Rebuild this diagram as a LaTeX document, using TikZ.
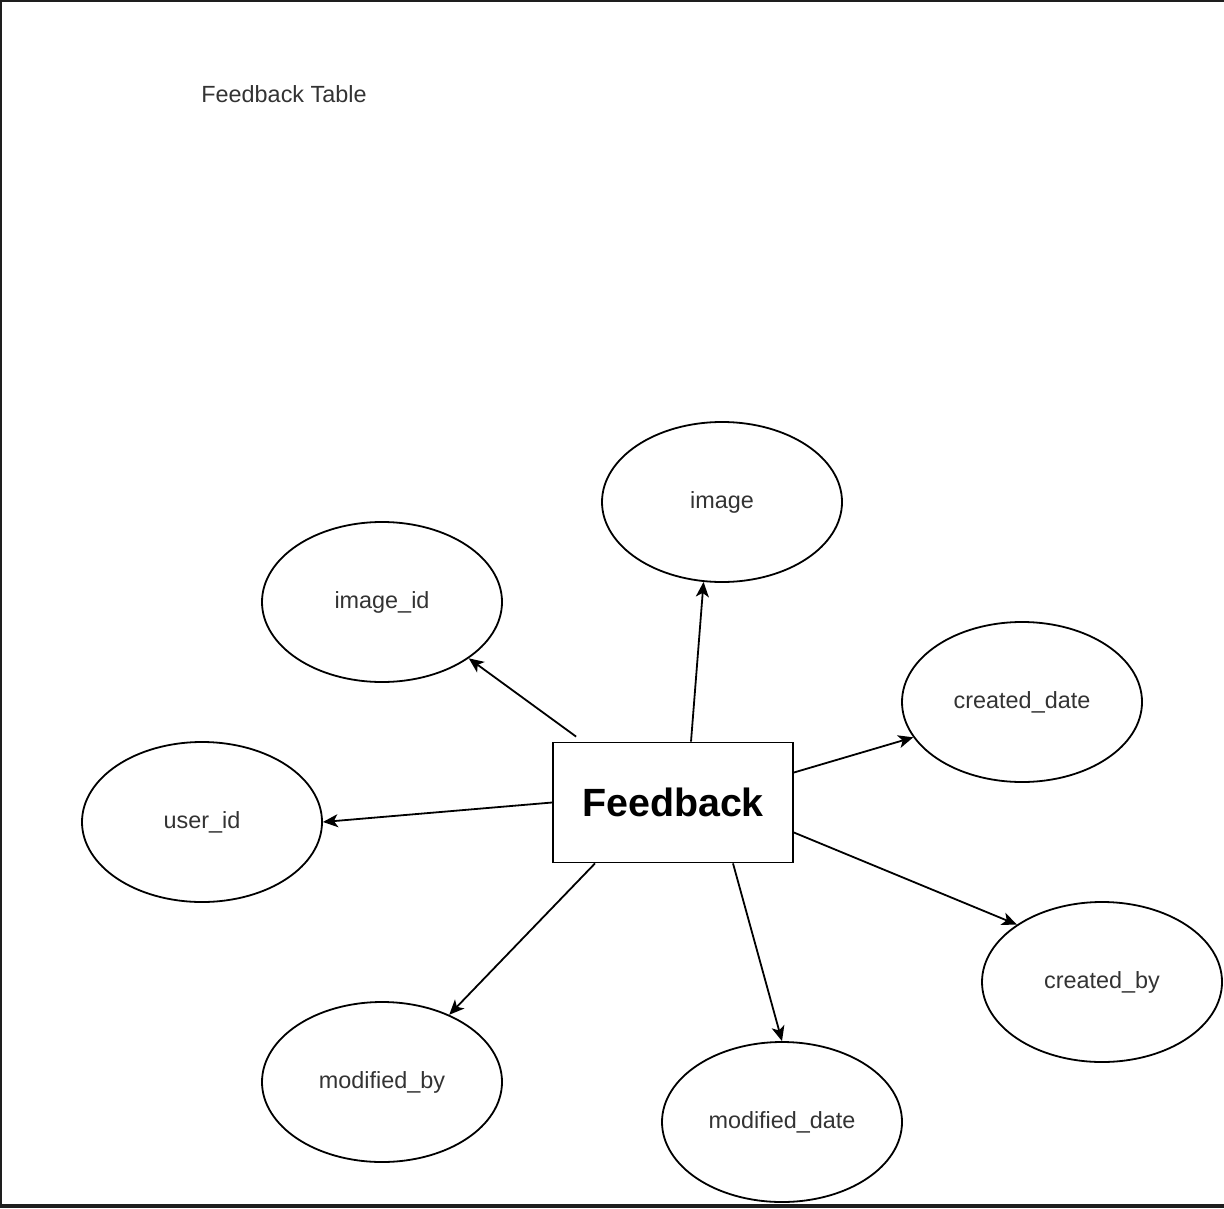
\documentclass[tikz,border=0pt]{standalone}
\usepackage{fontspec}
\setmainfont{Liberation Sans}
\usetikzlibrary{shapes.geometric,arrows.meta}
\definecolor{framegray}{HTML}{1E1E1E}
\definecolor{labelgray}{HTML}{333333}
\begin{document}
\begin{tikzpicture}[x=0.5pt,y=-0.5pt,>={Stealth[length=7.5pt,width=6.5pt,inset=2pt]},line width=0.9pt]
	\tikzstyle{attr}=[ellipse,draw,minimum width=120pt,minimum height=80pt,inner sep=0pt,text=labelgray,font=\fontsize{11.7pt}{14pt}\selectfont]
	\tikzstyle{ent}=[rectangle,draw,minimum width=120pt,minimum height=60pt,inner sep=0pt,font=\fontsize{19.7pt}{23pt}\selectfont\bfseries]
	\useasboundingbox (0,0) rectangle (1224,1208);
	\fill[framegray] (0,0) rectangle (1224,2);
	\fill[framegray] (0,0) rectangle (2,1208);
	\fill[framegray] (0,1204) rectangle (1224,1208);

	\node[text=labelgray,font=\fontsize{11.7pt}{14pt}\selectfont] (title) at (284,94) {Feedback Table};

	\node[ent] (FB) at (673,802.5) {Feedback};

	\node[attr] (IMG) at (722,502) {\raisebox{-1pt}{image}};
	\node[attr] (IMGID) at (382,602) {\raisebox{-1pt}{image\_id}};
	\node[attr] (CD) at (1022,702) {\raisebox{-1pt}{created\_date}};
	\node[attr] (UID) at (202,822) {\raisebox{-1pt}{user\_id}};
	\node[attr] (CB) at (1102,982) {\raisebox{-1pt}{created\_by}};
	\node[attr] (MB) at (382,1082) {\raisebox{-1pt}{modified\_by}};
	\node[attr] (MD) at (782,1122) {\raisebox{-1pt}{modified\_date}};

	\path ([shift={(24,-5)}]FB.north west) edge[->] (IMGID.-33.4);
	\path ([shift={(18,0)}]FB.north) edge[->] (IMG.-103.4);
	\path ([shift={(0,-30)}]FB.east) edge[->] (CD.-162.2);
	\path (FB.west) edge[->] (UID.0);
	\path ([shift={(0,30)}]FB.east) edge[->] (CB.146.8);
	\path ([shift={(60,0)}]FB.south) edge[->] (MD.90);
	\path ([shift={(-78,0)}]FB.south) edge[->] (MB.45.4);
\end{tikzpicture}
\end{document}
